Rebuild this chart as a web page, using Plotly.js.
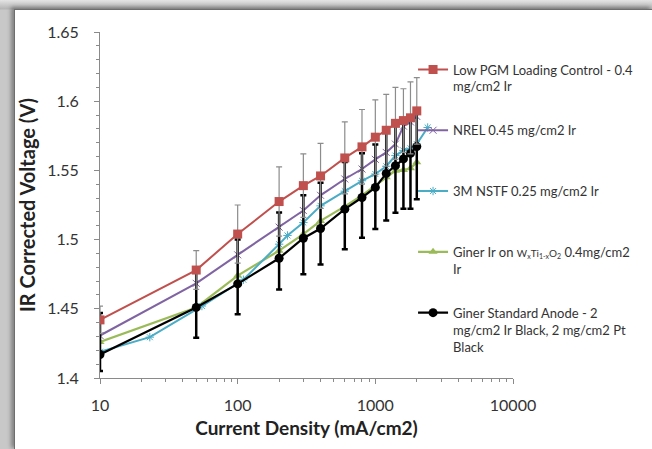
<!DOCTYPE html>
<html><head><meta charset="utf-8">
<script src="https://cdn.plot.ly/plotly-3.0.1.min.js"></script>
<style>
html,body{margin:0;padding:0;width:652px;height:449px;overflow:hidden;background:linear-gradient(180deg,#e4e4e4 0px,#b4b4b4 9px,#c8c8c8 10px);}
#frame{position:absolute;left:14px;top:9px;width:638px;height:440px;background:#fff;border-left:1px solid #6e6e6e;border-top:1px solid #6e6e6e;box-shadow:-3px -2px 4px rgba(0,0,0,0.35);}
#chart{width:637px;height:439px;}
</style></head>
<body>
<div id="frame"><div id="chart"></div></div>
<script>
const currentDensity = [10, 50, 100, 200, 300, 400, 600, 800, 1000, 1200, 1400, 1600, 1800, 2000];
const lowPGM = [1.442, 1.478, 1.504, 1.5275, 1.539, 1.546, 1.559, 1.567, 1.574, 1.579, 1.584, 1.586, 1.588, 1.593];
const lowPGMErr = [0.010, 0.014, 0.021, 0.025, 0.023, 0.0235, 0.026, 0.027, 0.027, 0.026, 0.026, 0.023, 0.026, 0.024];
const nrel = [1.4307, 1.4684, 1.489, 1.509, 1.521, 1.532, 1.5438, 1.551, 1.558, 1.563, 1.569, 1.582, 1.585, 1.589];
const nstfCurrent = [10, 23, 55, 110, 200, 230, 300, 400, 600, 800, 1000, 1200, 1400, 1600, 1800, 2000, 2400];
const nstf = [1.419, 1.4295, 1.452, 1.471, 1.4967, 1.503, 1.5123, 1.5244, 1.535, 1.5425, 1.5474, 1.553, 1.5607, 1.5643, 1.566, 1.569, 1.581];
const ginerWTi = [1.426, 1.451, 1.474, 1.492, 1.504, 1.5135, 1.524, 1.532, 1.539, 1.545, 1.5498, 1.5503, 1.5515, 1.5558];
const ginerStd = [1.417, 1.451, 1.468, 1.4865, 1.501, 1.508, 1.522, 1.5304, 1.5377, 1.5478, 1.5534, 1.5583, 1.5623, 1.5672];
const ginerStdErrPlus = [0.030, 0.026, 0.032, 0.033, 0.031, 0.033, 0.034, 0.032, 0.031, 0.031, 0.030, 0.028, 0.026, 0.024];
const ginerStdErrMinus = [0.012, 0.022, 0.022, 0.0225, 0.026, 0.026, 0.029, 0.029, 0.030, 0.034, 0.034, 0.036, 0.040, 0.038];
const seriesNames = [
  'Low PGM Loading Control - 0.4<br>mg/cm2 Ir',
  'NREL 0.45 mg/cm2 Ir<br> ',
  '3M NSTF 0.25 mg/cm2 Ir<br> ',
  'Giner Ir on <span style="font-size:10px">W<sub>x</sub>Ti<sub>1-x</sub>O<sub>2</sub></span> 0.4mg/cm2<br>Ir',
  'Giner Standard Anode - 2<br>mg/cm2 Ir Black, 2 mg/cm2 Pt<br>Black'
];
const xTickVals = [10, 100, 1000, 10000];
const xTickText = ['10', '100', '1000', '10000'];

// minor ticks at 2..9 of every decade
const xMinorVals = [];
xTickVals.slice(0, -1).forEach(function (d) { for (let k = 2; k <= 9; k++) xMinorVals.push(d * k); });

const traces = [
  {x: currentDensity, y: ginerWTi, name: seriesNames[3], legendrank: 4, legendgroup: 'g4',
   mode: 'lines+markers', line: {color: '#9BBB59', width: 2.2},
   marker: {symbol: 'triangle-up', size: 8, color: '#9BBB59'}},
  {x: nstfCurrent, y: nstf, name: seriesNames[2], legendrank: 3, legendgroup: 'g3',
   mode: 'lines+markers', line: {color: '#4BACC6', width: 2},
   marker: {symbol: 'asterisk-open', size: 7, color: '#4BACC6', line: {width: 1, color: '#4BACC6'}}},
  {x: currentDensity, y: nrel, name: seriesNames[1], legendrank: 2, legendgroup: 'g2',
   mode: 'lines+markers', line: {color: '#8064A2', width: 2},
   marker: {symbol: 'x-thin-open', size: 7, color: '#8064A2', line: {width: 1, color: '#8064A2'}}},
  {x: currentDensity, y: ginerStd, name: seriesNames[4], legendrank: 5, legendgroup: 'g5',
   mode: 'lines+markers', line: {color: '#000000', width: 2.2},
   marker: {symbol: 'circle', size: 9, color: '#000000'},
   error_y: {type: 'data', symmetric: false, array: ginerStdErrPlus, arrayminus: ginerStdErrMinus,
             color: '#000000', thickness: 2.5, width: 3}},
  {x: currentDensity, y: lowPGM, name: seriesNames[0], legendrank: 1, legendgroup: 'g1',
   mode: 'lines+markers', line: {color: '#C0504D', width: 2},
   marker: {symbol: 'square', size: 9, color: '#C0504D'},
   error_y: {type: 'data', array: lowPGMErr, color: '#8c8c8c', thickness: 1.2, width: 3}}
];

const layout = {
  width: 637, height: 439,
  margin: {l: 85, r: 139, t: 22, b: 71},
  paper_bgcolor: '#ffffff', plot_bgcolor: '#ffffff',
  font: {family: 'Lato, "Open Sans", sans-serif', color: '#333333', size: 14},
  showlegend: true,
  legend: {x: 0.758, xanchor: 'left', y: 0.935, yanchor: 'top', traceorder: 'grouped',
           tracegroupgap: 24, valign: 'top', bgcolor: 'rgba(0,0,0,0)',
           font: {family: 'Lato, "Open Sans", sans-serif', size: 13, color: '#333333'}},
  xaxis: {type: 'log', range: [1, 4], tickvals: xTickVals, ticktext: xTickText,
          showline: true, linecolor: '#8a8a8a', linewidth: 1, showgrid: false, zeroline: false,
          ticks: 'outside', ticklen: 5, tickcolor: '#8a8a8a', ticklabelstandoff: 8,
          minor: {ticks: 'outside', ticklen: 3, tickcolor: '#8a8a8a', tickvals: xMinorVals, showgrid: false},
          tickfont: {size: 16, color: '#333333'},
          title: {text: 'Current Density (mA/cm2)', standoff: 8,
                  font: {size: 19, color: '#222222', family: 'Lato, "Open Sans", sans-serif', weight: 'bold'}}},
  yaxis: {range: [1.4, 1.65], dtick: 0.05, showline: true, linecolor: '#8a8a8a', linewidth: 1,
          showgrid: false, zeroline: false, ticks: 'outside', ticklen: 5, tickcolor: '#8a8a8a',
          ticklabelstandoff: 12,
          minor: {ticks: 'outside', ticklen: 3, tickcolor: '#8a8a8a', dtick: 0.01, showgrid: false},
          tickfont: {size: 16, color: '#333333'},
          title: {text: 'IR Corrected Voltage (V)', standoff: 10,
                  font: {size: 20, color: '#222222', family: 'Lato, "Open Sans", sans-serif', weight: 'bold'}}}
};

Plotly.newPlot('chart', traces, layout, {displayModeBar: false, staticPlot: true});
</script>
</body></html>
